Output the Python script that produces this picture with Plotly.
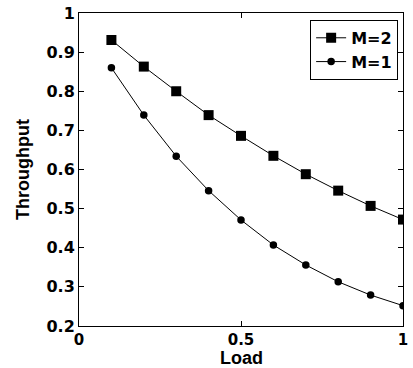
import plotly.graph_objects as go

load = [0.1, 0.2, 0.3, 0.4, 0.5, 0.6, 0.7, 0.8, 0.9, 1.0]
thr_m2 = [0.931, 0.863, 0.800, 0.739, 0.686, 0.635, 0.588, 0.546, 0.507, 0.472]
thr_m1 = [0.860, 0.739, 0.634, 0.546, 0.471, 0.407, 0.356, 0.313, 0.279, 0.252]
x_ticks = [0, 0.5, 1]
x_tick_labels = ["0", "0.5", "1"]
y_ticks = [0.2, 0.3, 0.4, 0.5, 0.6, 0.7, 0.8, 0.9, 1.0]
y_tick_labels = ["0.2", "0.3", "0.4", "0.5", "0.6", "0.7", "0.8", "0.9", "1"]

tick_font = "DejaVu Sans, Arial, sans-serif"
title_font = "Liberation Sans, Arial, sans-serif"

fig = go.Figure()
fig.add_trace(go.Scatter(x=load, y=thr_m2, name="<b>M=2</b>", mode="lines+markers",
                         line=dict(color="black", width=1),
                         marker=dict(symbol="square", size=10, color="black")))
fig.add_trace(go.Scatter(x=load, y=thr_m1, name="<b>M=1</b>", mode="lines+markers",
                         line=dict(color="black", width=1),
                         marker=dict(symbol="circle", size=7.5, color="black")))

axis_common = dict(showline=True, linecolor="black", linewidth=1, mirror="ticks",
                   ticks="inside", ticklen=5, tickcolor="black", showgrid=False,
                   zeroline=False, automargin=False)

fig.update_xaxes(range=[0, 1], tickvals=x_ticks, ticktext=[f"<b>{t}</b>" for t in x_tick_labels],
                 tickfont=dict(family=tick_font, size=15, color="black"),
                 **axis_common)
fig.update_yaxes(range=[0.2, 1], tickvals=y_ticks, ticktext=[f"<b>{t}</b>" for t in y_tick_labels],
                 tickfont=dict(family=tick_font, size=16, color="black"),
                 title=dict(text="<b>Throughput</b>", font=dict(family=title_font, size=18, color="black"), standoff=12),
                 **axis_common)

fig.add_annotation(text="<b>Load</b>", xref="paper", yref="paper", x=0.5, y=0,
                   xanchor="center", yanchor="bottom", yshift=-43, showarrow=False, borderpad=0,
                   font=dict(family=title_font, size=18, color="black"))

fig.update_layout(
    width=413, height=368,
    margin=dict(l=79, r=10, t=13, b=42),
    paper_bgcolor="white", plot_bgcolor="white",
    showlegend=True,
    legend=dict(x=0.985, y=0.978, xanchor="right", yanchor="top",
                bordercolor="black", borderwidth=1, bgcolor="white",
                font=dict(family=tick_font, size=16, color="black"),
                tracegroupgap=0, itemwidth=30),
)

fig.write_html("out.html", config={"displayModeBar": False},
               post_script="document.body.style.margin='0';document.body.style.padding='0';")
